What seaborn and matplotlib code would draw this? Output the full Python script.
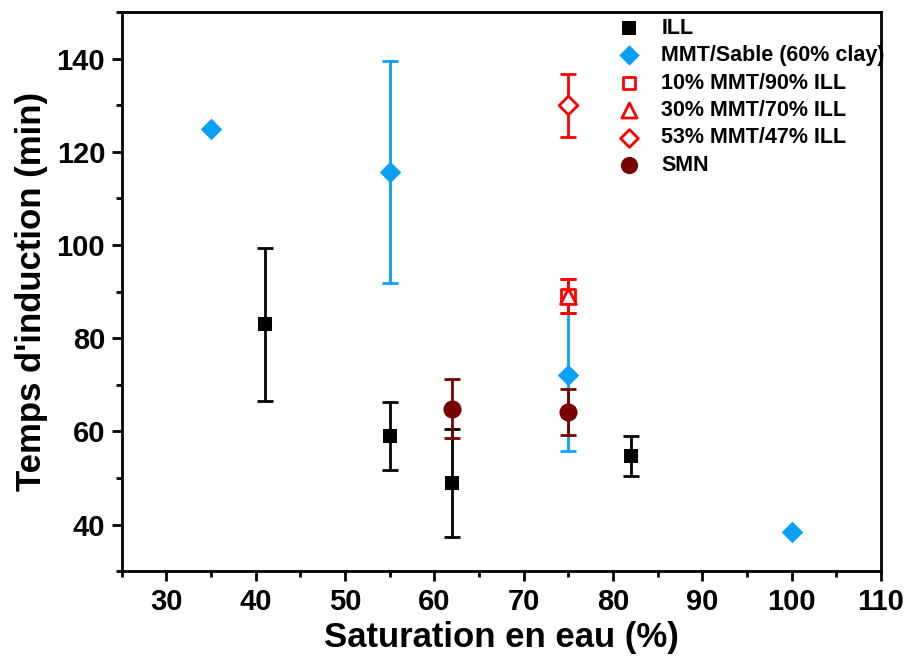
import numpy as np
import pandas as pd
import matplotlib
matplotlib.use("Agg")
import matplotlib.pyplot as plt
from matplotlib.ticker import MultipleLocator
import seaborn as sns

# ---- data ----
ill_x = [41, 55, 62, 82]
ill_y = [83, 59, 49, 54.8]
ill_err = [16.4, 7.3, 11.6, 4.3]

mmt_x = [35, 55, 75, 100]
mmt_y = [125, 115.7, 72, 38.3]
mmt_err = [0, 23.8, 16.3, 0]

m10_x = [75]
m10_y = [89]
m10_err = [3.7]

m30_x = [75]
m30_y = [89]
m30_err = [3.7]

m53_x = [75]
m53_y = [130]
m53_err = [6.8]

smn_x = [62, 75]
smn_y = [64.9, 64.2]
smn_err = [6.4, 4.9]

BLUE = "#0AA0F5"
RED = "#FF0000"
DRED = "#780000"

sns.set_theme(style="ticks")
plt.rcParams["font.family"] = ["Liberation Sans", "DejaVu Sans"]
plt.rcParams["font.weight"] = "bold"
for k in ["text.color", "axes.labelcolor", "xtick.color", "ytick.color", "axes.edgecolor"]:
    plt.rcParams[k] = "black"

fig = plt.figure(figsize=(9.09, 6.68), dpi=100)
ax = fig.add_axes([0.134, 0.145, 0.835, 0.837])

eb = dict(fmt="none", capsize=6, elinewidth=2, capthick=2)
ax.errorbar(mmt_x, mmt_y, yerr=mmt_err, ecolor=BLUE, zorder=2, **eb)
ax.errorbar(ill_x, ill_y, yerr=ill_err, ecolor="black", zorder=2, **eb)
ax.errorbar(smn_x, smn_y, yerr=smn_err, ecolor=DRED, zorder=2, **eb)
ax.errorbar(m10_x, m10_y, yerr=m10_err, ecolor=RED, zorder=2, **eb)
ax.errorbar(m30_x, m30_y, yerr=m30_err, ecolor=RED, zorder=2, **eb)
ax.errorbar(m53_x, m53_y, yerr=m53_err, ecolor=RED, zorder=2, **eb)

sns.scatterplot(x=ill_x, y=ill_y, marker="s", s=110, color="black",
                edgecolor="black", linewidth=0, label="ILL", ax=ax, zorder=3)
sns.scatterplot(x=mmt_x, y=mmt_y, marker="D", s=120, color=BLUE,
                edgecolor=BLUE, linewidth=0, label="MMT/Sable (60% clay)", ax=ax, zorder=3)
sns.scatterplot(x=m10_x, y=m10_y, marker="s", s=90, facecolor="white",
                edgecolor=RED, linewidth=2, label="10% MMT/90% ILL", ax=ax, zorder=3)
sns.scatterplot(x=m30_x, y=m30_y, marker="^", s=130, facecolor="white",
                edgecolor=RED, linewidth=2, label="30% MMT/70% ILL", ax=ax, zorder=3)
sns.scatterplot(x=m53_x, y=m53_y, marker="D", s=90, facecolor="white",
                edgecolor=RED, linewidth=2, label="53% MMT/47% ILL", ax=ax, zorder=3)
sns.scatterplot(x=smn_x, y=smn_y, marker="o", s=170, color=DRED,
                edgecolor=DRED, linewidth=0, label="SMN", ax=ax, zorder=3)

ax.set_xlim(25, 110)
ax.set_ylim(30, 150)
ax.xaxis.set_major_locator(MultipleLocator(10))
ax.xaxis.set_minor_locator(MultipleLocator(5))
ax.yaxis.set_major_locator(MultipleLocator(20))
ax.yaxis.set_minor_locator(MultipleLocator(10))
ax.set_xticks(np.arange(30, 111, 10))
ax.set_yticks(np.arange(40, 141, 20))

for s in ax.spines.values():
    s.set_linewidth(2)
    s.set_color("black")
ax.tick_params(which="major", direction="out", length=7, width=2, labelsize=21,
               pad=5, colors="black")
ax.tick_params(which="minor", direction="out", length=4, width=2, colors="black")
for lab in ax.get_xticklabels() + ax.get_yticklabels():
    lab.set_fontweight("bold")

ax.set_xlabel("Saturation en eau (%)", fontsize=25, fontweight="bold", labelpad=4)
ax.set_ylabel("Temps d'induction (min)", fontsize=25, fontweight="bold", labelpad=6)

leg = ax.legend(loc="upper left", bbox_to_anchor=(0.62, 1.017), frameon=False,
                prop={"size": 15.5, "weight": "bold"}, handletextpad=0.5,
                labelspacing=0.3, borderaxespad=0.3, markerscale=0.95)

fig.savefig("out.png", dpi=100)
